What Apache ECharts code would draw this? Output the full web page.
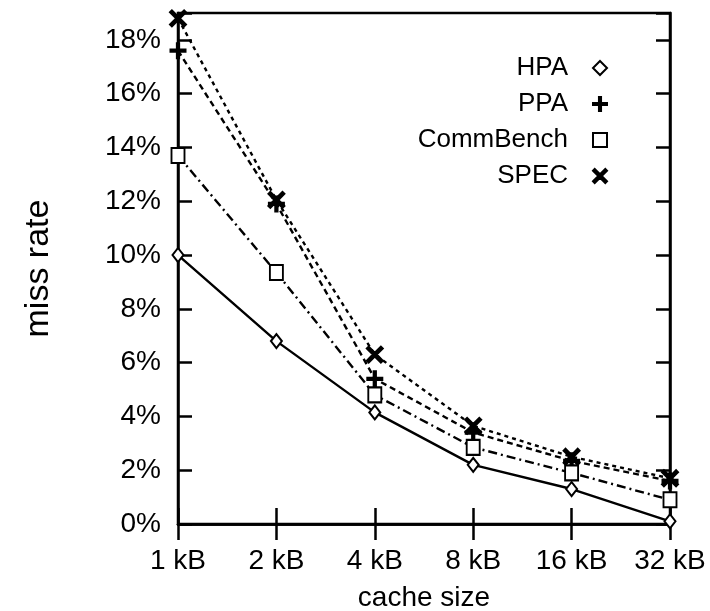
<!DOCTYPE html>
<html>
<head>
<meta charset="utf-8">
<script src="https://cdn.jsdelivr.net/npm/echarts@6/dist/echarts.min.js"></script>
<style>
html,body{margin:0;padding:0;background:#fff;}
#chart{width:710px;height:611px;}
</style>
</head>
<body>
<div id="chart"></div>
<script>
var categories = ['1 kB', '2 kB', '4 kB', '8 kB', '16 kB', '32 kB'];
var hpa = [10.0, 6.8, 4.15, 2.2, 1.3, 0.1];
var ppa = [17.6, 11.9, 5.4, 3.4, 2.35, 1.6];
var commBench = [13.7, 9.35, 4.8, 2.85, 1.9, 0.9];
var spec = [18.8, 12.05, 6.3, 3.65, 2.5, 1.7];
var yTicks = [0, 2, 4, 6, 8, 10, 12, 14, 16, 18];

var FONT = "'Liberation Sans', Arial, Helvetica, sans-serif";
var plusPath = 'path://M4.25,0 H5.75 V4.25 H10 V5.75 H5.75 V10 H4.25 V5.75 H0 V4.25 H4.25 Z';
var crossPath = 'path://M0,1.2 L1.2,0 L5,3.8 L8.8,0 L10,1.2 L6.2,5 L10,8.8 L8.8,10 L5,6.2 L1.2,10 L0,8.8 L3.8,5 Z';

var chart = echarts.init(document.getElementById('chart'), null, {renderer: 'canvas'});

function baseSeries(name, data, symbol, size, dash) {
  return {
    name: name, type: 'line', data: data,
    xAxisIndex: 0, yAxisIndex: 0,
    symbol: symbol, symbolSize: size,
    showAllSymbol: true,
    itemStyle: {color: '#000', borderColor: '#000', borderWidth: 2},
    lineStyle: {color: '#000', width: 2.4, type: dash},
    emphasis: {disabled: true},
    animation: false,
    z: 3
  };
}

var option = {
  backgroundColor: '#fff',
  animation: false,
  grid: {left: 178, right: 40, top: 13, bottom: 87, containLabel: false, outerBoundsMode: 'none',
         show: true, borderColor: '#000', borderWidth: 2.5, backgroundColor: 'transparent'},
  legend: {
    orient: 'vertical', align: 'right',
    right: 97, top: 50,
    itemWidth: 14, itemHeight: 14, itemGap: 10,
    selectedMode: false,
    textStyle: {fontFamily: FONT, fontSize: 26, color: '#000', padding: [0, 20, 0, 0]},
    data: [
      {name: 'HPA', icon: 'emptyDiamond', itemStyle: {color: '#000', borderColor: '#000', borderWidth: 2}},
      {name: 'PPA', icon: plusPath, itemStyle: {color: '#000'}},
      {name: 'CommBench', icon: 'emptyRect', itemStyle: {color: '#000', borderColor: '#000', borderWidth: 2}},
      {name: 'SPEC', icon: crossPath, itemStyle: {color: '#000'}}
    ]
  },
  xAxis: [
    {
      type: 'category', data: categories, boundaryGap: false, position: 'bottom',
      axisLine: {show: true, lineStyle: {color: '#000', width: 2.5}},
      axisTick: {show: true, inside: true, length: 16, lineStyle: {color: '#000', width: 2.5}},
      axisLabel: {color: '#000', fontFamily: FONT, fontSize: 28, margin: 23, interval: 0, hideOverlap: false},
      splitLine: {show: false},
      name: 'cache size', nameLocation: 'middle', nameGap: 60,
      nameTextStyle: {color: '#000', fontFamily: FONT, fontSize: 28}
    },
    {
      type: 'category', data: categories, boundaryGap: false, position: 'top',
      axisLine: {show: true, lineStyle: {color: '#000', width: 2.5}},
      axisTick: {show: true, inside: true, length: 16, lineStyle: {color: '#000', width: 2.5}},
      axisLabel: {show: false},
      splitLine: {show: false}
    }
  ],
  yAxis: [
    {
      type: 'value', min: 0, max: 19, interval: 2, position: 'left',
      axisLine: {show: true, lineStyle: {color: '#000', width: 2.5}},
      axisTick: {show: true, inside: true, length: 14, lineStyle: {color: '#000', width: 2.5}},
      axisLabel: {
        color: '#000', fontFamily: FONT, fontSize: 28, margin: 17,
        formatter: function (v) { return yTicks.indexOf(v) >= 0 ? v + '%' : ''; }
      },
      splitLine: {show: false},
      name: 'miss rate', nameLocation: 'middle', nameGap: 122,
      nameTextStyle: {color: '#000', fontFamily: FONT, fontSize: 34}
    },
    {
      type: 'value', min: 0, max: 19, interval: 2, position: 'right',
      axisLine: {show: true, lineStyle: {color: '#000', width: 2.5}},
      axisTick: {show: true, inside: true, length: 14, lineStyle: {color: '#000', width: 2.5}},
      axisLabel: {show: false},
      splitLine: {show: false}
    }
  ],
  series: [
    baseSeries('HPA', hpa, 'emptyDiamond', [11, 14], 'solid'),
    baseSeries('PPA', ppa, plusPath, 15, [6, 4]),
    baseSeries('CommBench', commBench, 'emptyRect', [13, 15], [9, 4, 2, 4]),
    baseSeries('SPEC', spec, crossPath, 16, [4, 4])
  ]
};
chart.setOption(option);
</script>
</body>
</html>
